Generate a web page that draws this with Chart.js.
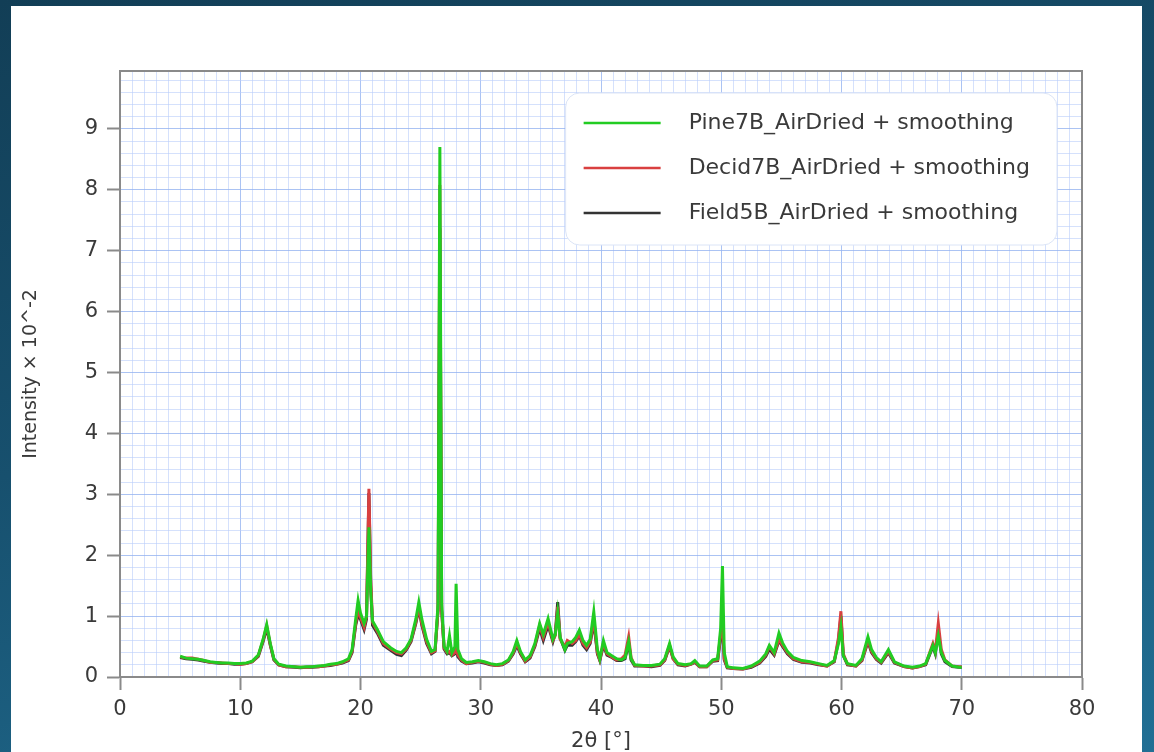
<!DOCTYPE html>
<html>
<head>
<meta charset="utf-8">
<script src="https://cdn.jsdelivr.net/npm/chart.js@4/dist/chart.umd.min.js"></script>
<style>
  html, body { margin: 0; padding: 0; }
  body {
    width: 1154px; height: 752px; overflow: hidden; position: relative;
    background: linear-gradient(165deg, #123e56 0%, #17506e 45%, #216f94 100%);
  }
  #panel { position: absolute; left: 11px; top: 6px; width: 1131px; height: 746px; background: #fff; }
  #xrd { position: absolute; left: 0; top: 0; }
</style>
</head>
<body>
<div id="panel"></div>
<canvas id="xrd" width="1154" height="752"></canvas>
<script>
"use strict";
// 2theta positions (degrees)
const twoTheta = [
  5.0, 5.5, 6.0, 6.5, 7.0, 7.5, 8.0, 8.5, 9.0, 9.5,
  10.0, 10.5, 11.0, 11.5, 11.9, 12.2, 12.5, 12.8, 13.2, 13.8,
  14.5, 15.0, 15.5, 16.0, 16.5, 17.0, 17.5, 18.0, 18.5, 19.0,
  19.3, 19.6, 19.8, 20.0, 20.3, 20.5, 20.7, 20.85, 21.0, 21.4,
  21.9, 22.5, 23.0, 23.4, 23.8, 24.2, 24.6, 24.85, 25.1, 25.5,
  25.9, 26.2, 26.45, 26.6, 26.75, 26.95, 27.2, 27.4, 27.6, 27.85,
  27.95, 28.1, 28.4, 28.8, 29.3, 29.8, 30.3, 30.8, 31.3, 31.8,
  32.3, 32.7, 33.0, 33.3, 33.7, 34.1, 34.5, 34.9, 35.2, 35.6,
  36.0, 36.2, 36.4, 36.6, 37.0, 37.2, 37.6, 37.9, 38.2, 38.5,
  38.8, 39.1, 39.4, 39.7, 39.9, 40.2, 40.5, 40.9, 41.3, 41.7,
  42.0, 42.3, 42.5, 42.8, 43.5, 44.2, 44.9, 45.3, 45.7, 46.0,
  46.4, 47.0, 47.5, 47.8, 48.2, 48.8, 49.3, 49.7, 49.95, 50.1,
  50.25, 50.5, 51.0, 51.8, 52.5, 53.2, 53.7, 54.0, 54.4, 54.8,
  55.1, 55.5, 56.0, 56.7, 57.4, 58.1, 58.8, 59.4, 59.75, 59.95,
  60.15, 60.5, 61.2, 61.7, 62.2, 62.5, 62.9, 63.3, 63.9, 64.4,
  65.2, 65.9, 66.5, 67.0, 67.6, 67.8, 68.05, 68.3, 68.6, 69.2,
  69.8, 70.0
];
// intensity x 10^-2
const pine7B = [
  .34, .31, .30, .29, .27, .25, .24, .23, .23, .22,
  .22, .23, .26, .36, .62, .86, .55, .30, .21, .18,
  .17, .16, .17, .17, .18, .19, .21, .22, .25, .30,
  .45, .95, 1.26, 1.05, .88, 1.00, 2.46, 1.40, .92, .78,
  .58, .48, .42, .40, .48, .62, .95, 1.23, .95, .62,
  .42, .45, 1.20, 8.70, 1.20, .50, .42, .68, .40, .50,
  1.53, .45, .30, .24, .25, .27, .25, .22, .20, .22,
  .28, .42, .60, .42, .28, .35, .55, .88, .70, .96,
  .62, .70, 1.05, .65, .45, .55, .58, .65, .77, .60,
  .52, .62, 1.07, .45, .30, .60, .40, .35, .30, .28,
  .32, .58, .30, .20, .19, .19, .21, .30, .55, .33,
  .22, .20, .22, .27, .18, .18, .28, .30, .80, 1.82,
  .40, .17, .15, .14, .18, .26, .38, .52, .40, .72,
  .56, .42, .32, .27, .25, .22, .19, .27, .55, .82,
  .35, .22, .19, .30, .66, .45, .32, .25, .45, .25,
  .18, .16, .18, .22, .52, .40, .67, .40, .27, .18,
  .16, .16
];
const decid7B = [
  .33, .31, .31, .29, .27, .24, .24, .23, .22, .22,
  .21, .22, .25, .35, .60, .84, .53, .29, .20, .17,
  .17, .16, .16, .17, .17, .18, .20, .21, .24, .28,
  .42, .88, 1.10, .98, .82, 1.00, 3.09, 1.60, .90, .75,
  .55, .46, .40, .38, .46, .60, .90, 1.15, .88, .58,
  .40, .43, 1.10, 8.08, 1.10, .48, .40, .42, .36, .40,
  .48, .36, .28, .22, .24, .26, .24, .21, .19, .21,
  .27, .40, .55, .40, .26, .33, .52, .85, .65, .90,
  .60, .68, 1.15, .62, .50, .60, .55, .60, .70, .55,
  .48, .58, .95, .40, .28, .55, .38, .33, .28, .30,
  .36, .66, .32, .19, .18, .18, .20, .28, .52, .30,
  .21, .19, .21, .25, .17, .17, .27, .28, .70, .95,
  .30, .16, .14, .13, .17, .24, .36, .50, .38, .62,
  .52, .40, .30, .25, .24, .21, .18, .26, .65, 1.08,
  .38, .21, .18, .28, .60, .42, .30, .24, .42, .24,
  .17, .15, .17, .21, .55, .42, .88, .45, .28, .18,
  .17, .17
];
const field5B = [
  .32, .30, .29, .28, .26, .24, .23, .22, .22, .21,
  .21, .22, .25, .34, .58, .80, .52, .28, .20, .17,
  .16, .15, .16, .16, .17, .18, .19, .21, .23, .27,
  .40, .85, 1.02, .95, .78, .95, 3.02, 1.50, .85, .72,
  .52, .44, .37, .35, .44, .58, .88, 1.12, .85, .55,
  .38, .42, 1.10, 7.37, 1.10, .46, .38, .40, .35, .38,
  .45, .33, .26, .22, .23, .25, .23, .20, .19, .20,
  .26, .38, .52, .38, .25, .31, .50, .80, .60, .85,
  .58, .72, 1.23, .64, .44, .52, .52, .58, .68, .52,
  .45, .55, .90, .38, .27, .52, .36, .32, .27, .27,
  .30, .55, .28, .18, .18, .17, .19, .27, .50, .30,
  .20, .18, .21, .24, .17, .17, .26, .27, .65, .85,
  .28, .15, .14, .13, .16, .23, .34, .46, .36, .60,
  .50, .38, .29, .24, .23, .20, .18, .25, .60, 1.00,
  .35, .20, .18, .27, .58, .40, .29, .23, .40, .23,
  .17, .15, .17, .20, .50, .38, .75, .38, .25, .17,
  .16, .16
];
const seriesNames = ["Pine7B_AirDried + smoothing", "Decid7B_AirDried + smoothing", "Field5B_AirDried + smoothing"];
const seriesColors = ["#22cc22", "#d94040", "#333333"];

const FONT = "'DejaVu Sans', Verdana, sans-serif";
const TEXT = "#3a3a3a";
const AXIS = "#8a8a8a";
const MAJOR = "rgba(150,180,240,0.8)";
const MINOR = "rgba(185,205,250,0.6)";

const isMultiple = (v, step) => Math.abs(v / step - Math.round(v / step)) < 1e-6;
const toPoints = ys => twoTheta.map((x, i) => ({ x, y: ys[i] }));

// top/right frame of the plot box
const frame = {
  id: "frame",
  afterDatasetsDraw(chart) {
    const { ctx, chartArea: a } = chart;
    ctx.save();
    ctx.strokeStyle = AXIS;
    ctx.lineWidth = 2;
    ctx.beginPath();
    ctx.moveTo(a.left, a.top);
    ctx.lineTo(a.right, a.top);
    ctx.lineTo(a.right, a.bottom);
    ctx.stroke();
    ctx.restore();
  }
};

// legend drawn inside the plot, upper right
const insideLegend = {
  id: "insideLegend",
  afterDraw(chart) {
    const { ctx, chartArea: a } = chart;
    const sets = chart.data.datasets;
    ctx.save();
    ctx.font = "22px " + FONT;
    const maxW = Math.max(...sets.map(d => ctx.measureText(d.label).width));
    const w = 18 + 77 + 28 + maxW + 27;
    const h = 152;
    const x0 = a.right - 25 - w;
    const y0 = a.top + 22;
    ctx.beginPath();
    if (ctx.roundRect) ctx.roundRect(x0, y0, w, h, 14); else ctx.rect(x0, y0, w, h);
    ctx.fillStyle = "#fff";
    ctx.fill();
    ctx.strokeStyle = "#dbe4f6";
    ctx.lineWidth = 1;
    ctx.stroke();
    sets.forEach((d, i) => {
      const y = y0 + 30 + i * 45;
      ctx.strokeStyle = d.borderColor;
      ctx.lineWidth = 2.5;
      ctx.beginPath();
      ctx.moveTo(x0 + 18, y);
      ctx.lineTo(x0 + 95, y);
      ctx.stroke();
      ctx.fillStyle = TEXT;
      ctx.textBaseline = "middle";
      ctx.fillText(d.label, x0 + 123, y);
    });
    ctx.restore();
  }
};

new Chart(document.getElementById("xrd"), {
  type: "line",
  data: {
    datasets: [pine7B, decid7B, field5B].map((ys, i) => ({
      label: seriesNames[i],
      data: toPoints(ys),
      borderColor: seriesColors[i],
      backgroundColor: seriesColors[i],
      borderWidth: 3,
      pointRadius: 0,
      tension: 0
    }))
  },
  options: {
    responsive: false,
    animation: false,
    layout: { padding: { top: 71, right: 72, left: 0, bottom: 0 } },
    plugins: { legend: { display: false }, tooltip: { enabled: false } },
    scales: {
      x: {
        type: "linear",
        min: 0,
        max: 80,
        afterFit(s) { s.height = 75; },
        border: { color: AXIS, width: 2 },
        grid: {
          color: c => isMultiple(c.tick.value, 10) ? MAJOR : MINOR,
          lineWidth: 1,
          tickLength: 13,
          tickWidth: 2,
          tickColor: c => isMultiple(c.tick.value, 10) ? AXIS : "rgba(0,0,0,0)"
        },
        ticks: {
          stepSize: 1,
          autoSkip: false,
          maxRotation: 0,
          includeBounds: false,
          padding: 7,
          color: TEXT,
          font: { family: FONT, size: 21 },
          callback: v => isMultiple(v, 10) ? String(Math.round(v)) : ""
        },
        title: {
          display: true,
          text: "2θ [°]",
          color: TEXT,
          font: { family: FONT, size: 21, lineHeight: 1 },
          padding: 0
        }
      },
      y: {
        min: 0,
        max: 9.95,
        afterFit(s) { s.width = 120; },
        border: { color: AXIS, width: 2 },
        grid: {
          color: c => isMultiple(c.tick.value, 1) ? MAJOR : MINOR,
          lineWidth: 1,
          tickLength: 13,
          tickWidth: 2,
          tickColor: c => isMultiple(c.tick.value, 1) ? AXIS : "rgba(0,0,0,0)"
        },
        ticks: {
          stepSize: 0.2,
          autoSkip: false,
          includeBounds: false,
          padding: 9,
          color: TEXT,
          font: { family: FONT, size: 21 },
          callback: v => isMultiple(v, 1) ? String(Math.round(v)) : ""
        },
        title: {
          display: true,
          text: "Intensity × 10^-2",
          color: TEXT,
          font: { family: FONT, size: 19, lineHeight: 1.2 },
          padding: { top: 20, bottom: 0 }
        }
      }
    }
  },
  plugins: [frame, insideLegend]
});
</script>
</body>
</html>
